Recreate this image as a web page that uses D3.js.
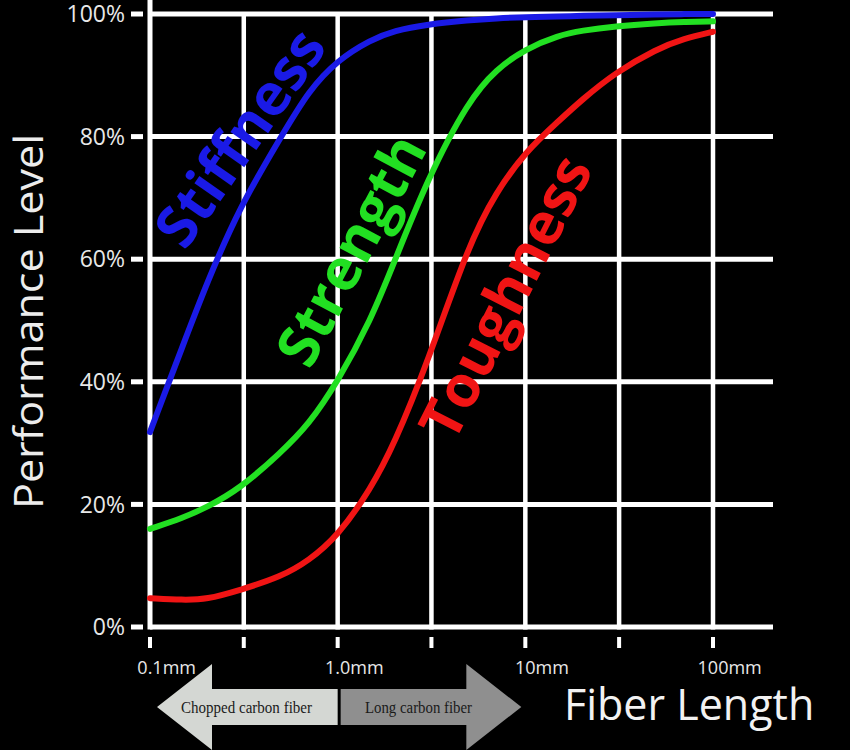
<!DOCTYPE html>
<html>
<head>
<meta charset="utf-8">
<script src="https://cdn.jsdelivr.net/npm/d3@7"></script>
<style>
  html, body { margin: 0; padding: 0; background: #000; }
  svg { display: block; }
</style>
</head>
<body>
<svg id="chart" width="850" height="750"></svg>
<script>
// ---------------- DATA ----------------
const lengths   = [0.1, 0.15, 0.2, 0.3, 0.5, 0.7, 1, 1.5, 2, 3, 5, 7, 10, 15, 20, 30, 50, 70, 100];
const stiffness = [31.8, 46, 56, 68.5, 80, 87.5, 92.5, 95.8, 97.3, 98.3, 99, 99.3, 99.5, 99.6, 99.7, 99.8, 99.9, 100, 100];
const strength  = [16, 17.8, 19.5, 22.5, 28.5, 33, 40, 50, 59.5, 73, 86, 91, 94.3, 96.5, 97.3, 98, 98.5, 98.7, 98.8];
const toughness = [4.7, 4.4, 4.5, 6.0, 8.2, 10.8, 14.8, 22.5, 29.8, 43, 62.5, 71, 77.5, 82.5, 86, 90.4, 94.3, 96, 97.1];

const seriesNames  = ["Stiffness", "Strength", "Toughness"];
const seriesValues = [stiffness, strength, toughness];
const seriesColors = ["#1a1ae6", "#22e022", "#f01414"];
// label anchor in data space [length mm, percent] and rotation
const labelLength = [0.302, 1.18, 7.86];
const labelLevel  = [79.8, 61.5, 53.8];
const labelAngle  = [-55, -62, -63];

const gridLengths   = [0.1, 0.316, 1, 3.16, 10, 31.6, 100];
const xLabelLengths = [0.1, 1, 10, 100];
const xLabelNums    = ["0.1", "1.0", "10", "100"];
const xLabelUnit    = "mm";
const yTicks        = [0, 20, 40, 60, 80, 100];
const yTickLabels   = ["0%", "20%", "40%", "60%", "80%", "100%"];

const arrowTexts = ["Chopped carbon fiber", "Long carbon fiber"];

// ---------------- SCALES ----------------
const svg = d3.select("#chart");
const x = d3.scaleLog().domain([0.1, 100]).range([150, 713]);
const y = d3.scaleLinear().domain([0, 100]).range([627, 14]);
const gridRight = 773;

// ---------------- GRID ----------------
const grid = svg.append("g");
grid.selectAll("line.h").data(yTicks).join("line")
  .attr("x1", x(0.1)).attr("x2", gridRight)
  .attr("y1", d => y(d)).attr("y2", d => y(d))
  .attr("stroke", "#fff").attr("stroke-width", 5);
grid.selectAll("line.v").data(gridLengths).join("line")
  .attr("x1", d => x(d)).attr("x2", d => x(d))
  .attr("y1", (d, i) => i === 0 ? 0 : y(100))
  .attr("y2", y(0) + 2.5)
  .attr("stroke", "#fff").attr("stroke-width", (d, i) => i === 0 ? 5 : 4.5);

grid.selectAll("rect.yt").data(yTicks).join("rect")
  .attr("x", 131).attr("width", 12)
  .attr("y", d => y(d) - 2.5).attr("height", 5)
  .attr("fill", "#fff");
grid.selectAll("rect.xt").data(gridLengths).join("rect")
  .attr("x", d => x(d) - 2).attr("width", 4)
  .attr("y", 637).attr("height", 11)
  .attr("fill", "#fff");

// y tick labels
svg.append("g").selectAll("text").data(yTicks).join("text")
  .attr("x", 125).attr("y", d => y(d))
  .attr("dy", "0.36em")
  .attr("text-anchor", "end")
  .attr("font-family", "'Open Sans', sans-serif")
  .attr("font-size", 23)
  .attr("fill", "#e8e8e8")
  .text((d, i) => yTickLabels[i]);

// x tick labels: numeric part centred on its tick
const xl = svg.append("g");
const probe = svg.append("text")
  .attr("font-family", "'Open Sans', sans-serif")
  .attr("font-size", 18);
xLabelLengths.forEach((v, i) => {
  probe.text(xLabelNums[i]);
  const w = probe.node().getComputedTextLength();
  xl.append("text")
    .attr("x", x(v) - w / 2)
    .attr("y", 674)
    .attr("font-family", "'Open Sans', sans-serif")
    .attr("font-size", 18)
    .attr("fill", "#e8e8e8")
    .text(xLabelNums[i] + xLabelUnit);
});
probe.remove();

// ---------------- CURVES ----------------
const line = d3.line()
  .x(d => x(d[0]))
  .y(d => y(d[1]))
  .curve(d3.curveBasis);

svg.append("g").selectAll("path").data(seriesValues).join("path")
  .attr("d", vals => line(lengths.map((l, i) => [l, vals[i]])))
  .attr("fill", "none")
  .attr("stroke", (d, i) => seriesColors[i])
  .attr("stroke-width", 6)
  .attr("stroke-linecap", "round");

svg.append("g").selectAll("text").data(seriesNames).join("text")
  .attr("transform", (d, i) => `translate(${x(labelLength[i])},${y(labelLevel[i])}) rotate(${labelAngle[i]})`)
  .attr("text-anchor", "middle")
  .attr("dy", "0.35em")
  .attr("font-family", "'Open Sans', sans-serif")
  .attr("font-weight", 700)
  .attr("font-size", 58)
  .attr("fill", (d, i) => seriesColors[i])
  .text(d => d);

// ---------------- AXIS TITLES ----------------
svg.append("text")
  .attr("transform", `translate(43,${(y(0) + y(100)) / 2 + 1}) rotate(-90)`)
  .attr("text-anchor", "middle")
  .attr("font-family", "'Open Sans', sans-serif")
  .attr("font-size", 41)
  .attr("textLength", 375)
  .attr("lengthAdjust", "spacingAndGlyphs")
  .attr("fill", "#ececec")
  .text("Performance Level");

svg.append("text")
  .attr("x", 564).attr("y", 720)
  .attr("font-family", "'Open Sans', sans-serif")
  .attr("font-size", 43)
  .attr("fill", "#f2f2f2")
  .text("Fiber Length");

// ---------------- ARROWS ----------------
const cy = 707, shaftH = 18, headH = 43, headL = 55;
const lTip = x(0.1) + 7, mid = x(1), rTip = x(10) - 4;
const leftArrow = [
  [lTip, cy], [lTip + headL, cy - headH], [lTip + headL, cy - shaftH],
  [mid, cy - shaftH], [mid, cy + shaftH], [lTip + headL, cy + shaftH], [lTip + headL, cy + headH]
];
const rightArrow = [
  [mid + 3, cy - shaftH], [rTip - headL, cy - shaftH], [rTip - headL, cy - headH],
  [rTip, cy], [rTip - headL, cy + headH], [rTip - headL, cy + shaftH], [mid + 3, cy + shaftH]
];
svg.append("polygon").attr("points", leftArrow.map(p => p.join(",")).join(" ")).attr("fill", "#d4d7d3");
svg.append("polygon").attr("points", rightArrow.map(p => p.join(",")).join(" ")).attr("fill", "#8f8f8f");

svg.append("text")
  .attr("x", 246.5).attr("y", 713)
  .attr("text-anchor", "middle")
  .attr("font-family", "'Liberation Serif', serif")
  .attr("font-size", 17)
  .attr("textLength", 131).attr("lengthAdjust", "spacingAndGlyphs")
  .attr("fill", "#1a1a1a")
  .text(arrowTexts[0]);
svg.append("text")
  .attr("x", 418.5).attr("y", 713)
  .attr("text-anchor", "middle")
  .attr("font-family", "'Liberation Serif', serif")
  .attr("font-size", 17)
  .attr("textLength", 107).attr("lengthAdjust", "spacingAndGlyphs")
  .attr("fill", "#1a1a1a")
  .text(arrowTexts[1]);
</script>
</body>
</html>
